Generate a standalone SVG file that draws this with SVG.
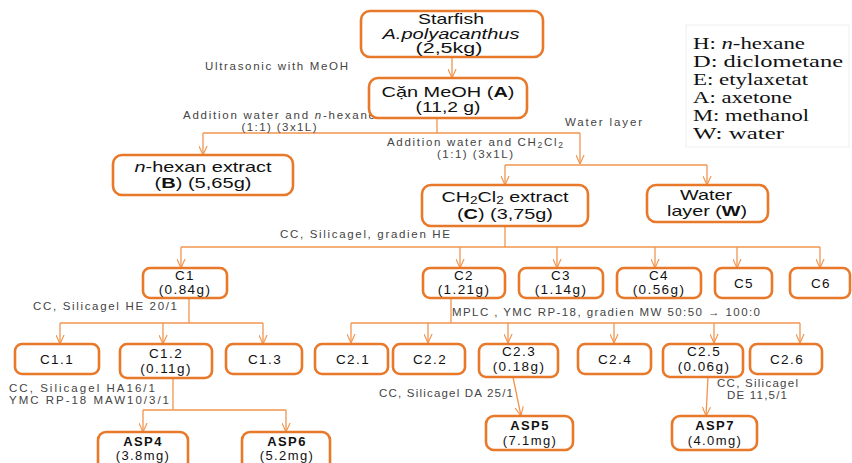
<svg xmlns="http://www.w3.org/2000/svg" width="852" height="463" viewBox="0 0 852 463">
<defs>
<marker id="arr" viewBox="0 0 10 10" refX="10" refY="5" markerWidth="9" markerHeight="9" markerUnits="userSpaceOnUse" orient="auto">
<path d="M0,0.5 L10,5 L0,9.5" fill="none" stroke="#F0954F" stroke-width="1.3"/>
</marker>
<style>
.box{fill:#fff;stroke:#E8782A;stroke-width:2.6}
.t{font-family:"Liberation Sans",Arial,sans-serif;font-size:14.5px;fill:#111;text-anchor:middle}
.s{font-family:"Liberation Sans",Arial,sans-serif;font-size:13.5px;fill:#111;text-anchor:middle;letter-spacing:1.4px}
.a{font-size:13px}
.b{font-weight:bold}
.lab{font-family:"Liberation Sans",Arial,sans-serif;font-size:11.5px;fill:#444}
.leg{font-family:"Liberation Serif","Times New Roman",serif;font-size:16px;fill:#111}
.ln{fill:none;stroke:#F0954F;stroke-width:1.3}
.ar{fill:none;stroke:#F0954F;stroke-width:1.3;marker-end:url(#arr)}
</style>
</defs>
<rect width="852" height="463" fill="#fff"/>

<g id="legend">
<rect x="686" y="25" width="163" height="122" fill="none" stroke="#efefef" stroke-width="1"/>
<text class="leg" x="693" y="49" textLength="112" lengthAdjust="spacingAndGlyphs">H: <tspan font-style="italic">n</tspan>-hexane</text>
<text class="leg" x="693" y="67" textLength="150" lengthAdjust="spacingAndGlyphs">D: diclometane</text>
<text class="leg" x="693" y="85" textLength="115" lengthAdjust="spacingAndGlyphs">E: etylaxetat</text>
<text class="leg" x="693" y="103" textLength="99" lengthAdjust="spacingAndGlyphs">A: axetone</text>
<text class="leg" x="693" y="121" textLength="116" lengthAdjust="spacingAndGlyphs">M: methanol</text>
<text class="leg" x="693" y="139" textLength="91" lengthAdjust="spacingAndGlyphs">W: water</text>
</g>

<g id="connectors">
<line class="ar" x1="452" y1="57" x2="452" y2="78"/>
<line class="ln" x1="437" y1="118" x2="437" y2="133"/>
<line class="ln" x1="203" y1="133" x2="580" y2="133"/>
<line class="ar" x1="203" y1="133" x2="203" y2="155"/>
<line class="ar" x1="580" y1="133" x2="580" y2="164"/>
<line class="ln" x1="505" y1="165" x2="707" y2="165"/>
<line class="ar" x1="505" y1="165" x2="505" y2="185"/>
<line class="ar" x1="707" y1="165" x2="707" y2="185"/>

<line class="ln" x1="505" y1="226" x2="505" y2="247"/>
<line class="ln" x1="181" y1="247" x2="820" y2="247"/>
<line class="ar" x1="181" y1="247" x2="181" y2="268"/>
<line class="ar" x1="460" y1="247" x2="460" y2="268"/>
<line class="ar" x1="557" y1="247" x2="557" y2="268"/>
<line class="ar" x1="655" y1="247" x2="655" y2="268"/>
<line class="ar" x1="737" y1="247" x2="737" y2="268"/>
<line class="ar" x1="820" y1="247" x2="820" y2="268"/>

<line class="ln" x1="189" y1="298" x2="189" y2="323"/>
<line class="ln" x1="60" y1="323" x2="263" y2="323"/>
<line class="ar" x1="60" y1="323" x2="60" y2="344"/>
<line class="ar" x1="163" y1="323" x2="163" y2="344"/>
<line class="ar" x1="263" y1="323" x2="263" y2="344"/>

<line class="ln" x1="451" y1="298" x2="451" y2="323"/>
<line class="ln" x1="351" y1="323" x2="800" y2="323"/>
<line class="ar" x1="351" y1="323" x2="351" y2="343"/>
<line class="ar" x1="428" y1="323" x2="428" y2="343"/>
<line class="ar" x1="508" y1="323" x2="508" y2="343"/>
<line class="ar" x1="614" y1="323" x2="614" y2="343"/>
<line class="ar" x1="714" y1="323" x2="714" y2="343"/>
<line class="ar" x1="800" y1="323" x2="800" y2="343"/>

<line class="ln" x1="173" y1="378" x2="173" y2="410"/>
<line class="ln" x1="143" y1="410" x2="286" y2="410"/>
<line class="ar" x1="143" y1="410" x2="143" y2="432"/>
<line class="ar" x1="286" y1="410" x2="286" y2="432"/>

<line class="ar" x1="513" y1="377" x2="521" y2="416"/>
<line class="ar" x1="708" y1="377" x2="706" y2="416"/>
</g>

<g id="labels">
<text class="lab" x="205" y="70" textLength="143" lengthAdjust="spacing">Ultrasonic with MeOH</text>
<text class="lab" x="183" y="119" textLength="192" lengthAdjust="spacing">Addition water and <tspan font-style="italic">n</tspan>-hexane</text>
<text class="lab" x="279" y="131" text-anchor="middle" textLength="75" lengthAdjust="spacing">(1:1) (3x1L)</text>
<text class="lab" x="565" y="126" textLength="77" lengthAdjust="spacing">Water layer</text>
<text class="lab" x="387" y="146" textLength="176" lengthAdjust="spacing">Addition water and CH<tspan font-size="8.5" dy="2">2</tspan><tspan dy="-2">Cl</tspan><tspan font-size="8.5" dy="2">2</tspan></text>
<text class="lab" x="475" y="158" text-anchor="middle" textLength="76" lengthAdjust="spacing">(1:1) (3x1L)</text>
<text class="lab" x="280" y="238" textLength="170" lengthAdjust="spacing">CC, Silicagel, gradien HE</text>
<text class="lab" x="33" y="310" textLength="144" lengthAdjust="spacing">CC, Silicagel HE 20/1</text>
<text class="lab" x="452" y="316" textLength="308" lengthAdjust="spacing">MPLC , YMC RP-18, gradien MW 50:50 → 100:0</text>
<text class="lab" x="9" y="392" textLength="146" lengthAdjust="spacing">CC, Silicagel  HA16/1</text>
<text class="lab" x="9" y="404" textLength="160" lengthAdjust="spacing">YMC RP-18 MAW10/3/1</text>
<text class="lab" x="379" y="397" textLength="134" lengthAdjust="spacing">CC, Silicagel DA 25/1</text>
<text class="lab" x="717" y="387" textLength="81" lengthAdjust="spacing">CC, Silicagel</text>
<text class="lab" x="757" y="399" text-anchor="middle" textLength="60" lengthAdjust="spacing">DE 11,5/1</text>
</g>

<g id="starfish">
<rect class="box" x="361" y="11" width="182" height="46" rx="9"/>
<text class="t" x="451" y="24" textLength="66" lengthAdjust="spacingAndGlyphs">Starfish</text>
<text class="t" x="451" y="38.5" font-style="italic" textLength="137" lengthAdjust="spacingAndGlyphs">A.polyacanthus</text>
<text class="t" x="449" y="53" textLength="67" lengthAdjust="spacingAndGlyphs">(2,5kg)</text>
</g>
<g id="A">
<rect class="box" x="369" y="78" width="158" height="40" rx="9"/>
<text class="t" x="448" y="96.5" textLength="133" lengthAdjust="spacingAndGlyphs">Cặn MeOH  (<tspan class="b">A</tspan>)</text>
<text class="t" x="448" y="111.5" textLength="65" lengthAdjust="spacingAndGlyphs">(11,2 g)</text>
</g>
<g id="B">
<rect class="box" x="113" y="155" width="180" height="40" rx="9"/>
<text class="t" x="203" y="172" textLength="137" lengthAdjust="spacingAndGlyphs"><tspan font-style="italic">n</tspan>-hexan extract</text>
<text class="t" x="203" y="188" textLength="97" lengthAdjust="spacingAndGlyphs">(<tspan class="b">B</tspan>) (5,65g)</text>
</g>
<g id="C">
<rect class="box" x="422" y="185" width="166" height="41" rx="9"/>
<text class="t" x="505" y="202" textLength="127" lengthAdjust="spacingAndGlyphs">CH<tspan font-size="10" dy="2">2</tspan><tspan dy="-2">Cl</tspan><tspan font-size="10" dy="2">2</tspan><tspan dy="-2"> extract</tspan></text>
<text class="t" x="505" y="219" textLength="96" lengthAdjust="spacingAndGlyphs">(<tspan class="b">C</tspan>) (3,75g)</text>
</g>
<g id="W">
<rect class="box" x="647" y="185" width="121" height="37" rx="9"/>
<text class="t" x="706" y="200" textLength="52" lengthAdjust="spacingAndGlyphs">Water</text>
<text class="t" x="707" y="216" textLength="80" lengthAdjust="spacingAndGlyphs">layer (<tspan class="b">W</tspan>)</text>
</g>

<g id="C1">
<rect class="box" x="143" y="268" width="84" height="30" rx="7"/>
<text class="s" x="185" y="280">C1</text>
<text class="s" x="185" y="294">(0.84g)</text>
</g>
<g id="C2">
<rect class="box" x="423" y="268" width="82" height="30" rx="7"/>
<text class="s" x="464" y="280">C2</text>
<text class="s" x="464" y="294">(1.21g)</text>
</g>
<g id="C3">
<rect class="box" x="519" y="268" width="84" height="30" rx="7"/>
<text class="s" x="561" y="280">C3</text>
<text class="s" x="561" y="294">(1.14g)</text>
</g>
<g id="C4">
<rect class="box" x="617" y="268" width="84" height="30" rx="7"/>
<text class="s" x="659" y="280">C4</text>
<text class="s" x="659" y="294">(0.56g)</text>
</g>
<g id="C5">
<rect class="box" x="715" y="268" width="57" height="30" rx="7"/>
<text class="s" x="744" y="288">C5</text>
</g>
<g id="C6">
<rect class="box" x="790" y="268" width="60" height="30" rx="7"/>
<text class="s" x="821" y="288">C6</text>
</g>

<g id="C1.1">
<rect class="box" x="15" y="344" width="84" height="30" rx="7"/>
<text class="s" x="57" y="364">C1.1</text>
</g>
<g id="C1.2">
<rect class="box" x="120" y="344" width="92" height="34" rx="7"/>
<text class="s" x="166" y="358">C1.2</text>
<text class="s" x="166" y="373">(0.11g)</text>
</g>
<g id="C1.3">
<rect class="box" x="226" y="344" width="76" height="30" rx="7"/>
<text class="s" x="265" y="364">C1.3</text>
</g>
<g id="C2.1">
<rect class="box" x="315" y="344" width="73" height="30" rx="7"/>
<text class="s" x="353" y="364">C2.1</text>
</g>
<g id="C2.2">
<rect class="box" x="393" y="344" width="72" height="30" rx="7"/>
<text class="s" x="430" y="364">C2.2</text>
</g>
<g id="C2.3">
<rect class="box" x="479" y="344" width="79" height="33" rx="7"/>
<text class="s" x="519" y="356">C2.3</text>
<text class="s" x="519" y="371">(0.18g)</text>
</g>
<g id="C2.4">
<rect class="box" x="578" y="344" width="73" height="30" rx="7"/>
<text class="s" x="615" y="364">C2.4</text>
</g>
<g id="C2.5">
<rect class="box" x="663" y="344" width="80" height="33" rx="7"/>
<text class="s" x="704" y="356">C2.5</text>
<text class="s" x="704" y="371">(0.06g)</text>
</g>
<g id="C2.6">
<rect class="box" x="750" y="344" width="72" height="30" rx="7"/>
<text class="s" x="787" y="364">C2.6</text>
</g>

<g id="ASP4">
<rect class="box" x="98" y="432" width="90" height="40" rx="8"/>
<text class="s a b" x="143" y="446">ASP4</text>
<text class="s a" x="143" y="460">(3.8mg)</text>
</g>
<g id="ASP6">
<rect class="box" x="242" y="432" width="88" height="40" rx="8"/>
<text class="s a b" x="287" y="446">ASP6</text>
<text class="s a" x="287" y="460">(5.2mg)</text>
</g>
<g id="ASP5">
<rect class="box" x="486" y="416" width="87" height="34" rx="8"/>
<text class="s a b" x="530" y="430">ASP5</text>
<text class="s a" x="530" y="445">(7.1mg)</text>
</g>
<g id="ASP7">
<rect class="box" x="672" y="416" width="85" height="34" rx="8"/>
<text class="s a b" x="715" y="430">ASP7</text>
<text class="s a" x="715" y="445">(4.0mg)</text>
</g>
</svg>
